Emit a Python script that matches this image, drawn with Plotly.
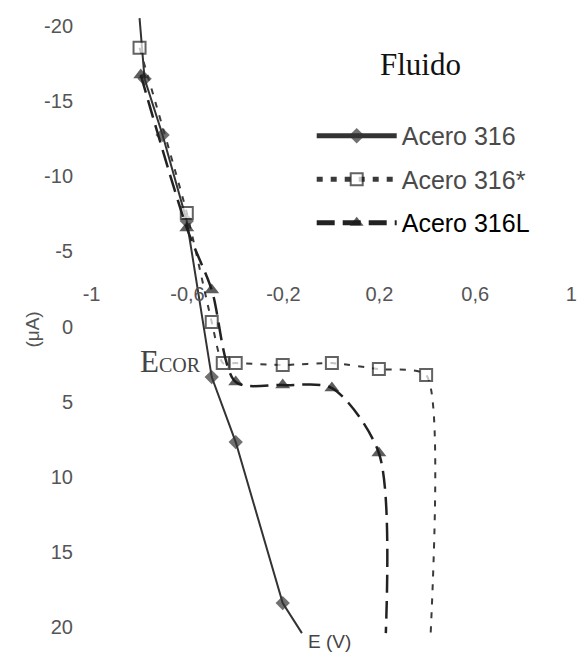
import plotly.graph_objects as go

# ---- data ----
acero316_E = [-0.800, -0.779, -0.704, -0.603, -0.499, -0.399, -0.203, -0.123]
acero316_I = [-20.5, -16.46, -12.73, -7.01, 3.36, 7.68, 18.38, 20.38]
acero316_mark = [False, True, True, True, True, True, True, False]

acero316s_E = [-0.800, -0.603, -0.499, -0.453, -0.399, -0.203, 0.002, 0.198, 0.395, 0.414]
acero316s_I = [-18.52, -7.55, -0.30, 2.43, 2.43, 2.56, 2.43, 2.83, 3.22, 20.38]
acero316s_mark = [True] * 9 + [False]

acero316L_E = [-0.795, -0.603, -0.499, -0.399, -0.203, 0.002, 0.198, 0.227]
acero316L_I = [-16.72, -6.55, -2.43, 3.69, 3.89, 4.09, 8.41, 20.38]
acero316L_mark = [True] * 7 + [False]

x_tickvals = [-1, -0.6, -0.2, 0.2, 0.6, 1]
x_ticktext = ["-1", "-0,6", "-0,2", "0,2", "0,6", "1"]
y_tickvals = [-20, -15, -10, -5, 0, 5, 10, 15, 20]
y_ticktext = ["-20", "-15", "-10", "-5", "0", "5", "10", "15", "20"]


def sizes(flags, s):
    return [s if f else 0 for f in flags]


fig = go.Figure()

fig.add_trace(go.Scatter(
    x=acero316_E, y=acero316_I, mode="lines+markers", name="Acero 316",
    legendgroup="a",
    line=dict(color="#333333", width=2),
    marker=dict(symbol="diamond", size=sizes(acero316_mark, 11), color="#333333",
                line=dict(width=0)),
))
fig.add_trace(go.Scatter(
    x=acero316s_E, y=acero316s_I, mode="lines+markers", name="Acero 316*",
    legendgroup="b",
    line=dict(color="#3a3a3a", width=2, dash="6px,8px", shape="spline", smoothing=0.6),
    marker=dict(symbol="square", size=sizes(acero316s_mark, 12), color="white",
                line=dict(width=2, color="#222222")),
))
fig.add_trace(go.Scatter(
    x=acero316L_E, y=acero316L_I, mode="lines+markers",
    name="<span style='color:#000000'>Acero 316L</span>",
    legendgroup="c",
    line=dict(color="#222222", width=2.5, dash="18px,8px", shape="spline", smoothing=0.8),
    marker=dict(symbol="triangle-up", size=sizes(acero316L_mark, 13), color="#1a1a1a",
                line=dict(width=0)),
))

fig.update_layout(
    width=577, height=656,
    margin=dict(l=82, r=1, t=3, b=6),
    paper_bgcolor="white", plot_bgcolor="white",
    font=dict(family="Liberation Sans, Arial, sans-serif", color="#4a4a4a"),
    showlegend=True,
    legend=dict(
        x=0.465, y=0.83, xanchor="left", yanchor="top",
        font=dict(size=25, color="#4a4a4a", family="Liberation Sans, Arial, sans-serif"),
        itemwidth=80, tracegroupgap=8, bgcolor="rgba(0,0,0,0)",
        itemsizing="constant",
    ),
    xaxis=dict(
        range=[-1.04, 1.02], tickvals=x_tickvals, ticktext=x_ticktext,
        showgrid=False, zeroline=False, showline=False,
        ticks="", tickfont=dict(size=20, color="#555555"),
        anchor="free", position=0.572,
    ),
    yaxis=dict(
        range=[21.5, -21.5], tickvals=y_tickvals, ticktext=y_ticktext,
        showgrid=False, zeroline=False, showline=False,
        ticks="outside", ticklen=4, tickcolor="rgba(0,0,0,0)",
        tickfont=dict(size=20, color="#555555"),
    ),
    annotations=[
        dict(text="Fluido", xref="paper", yref="paper", x=0.686, y=0.905,
             xanchor="center", yanchor="middle",
             showarrow=False, font=dict(family="Liberation Serif, Times New Roman, serif",
                                        size=31, color="#111111")),
        dict(text="E<span style='font-size:20px'>COR</span>", xref="x", yref="y",
             x=-0.67, y=2.3, xanchor="center", showarrow=False,
             font=dict(family="Liberation Serif, Times New Roman, serif", size=31,
                       color="#444444")),
        dict(text="E (V)", xref="x", yref="paper", x=-0.01, y=-0.006,
             xanchor="center", yanchor="bottom",
             showarrow=False, font=dict(size=19, color="#444444")),
        dict(text="(μA)", xref="paper", yref="y", x=-0.101, y=0.2, textangle=-90,
             xanchor="center", showarrow=False, font=dict(size=19, color="#555555")),
    ],
)

fig.write_html("out.html")
